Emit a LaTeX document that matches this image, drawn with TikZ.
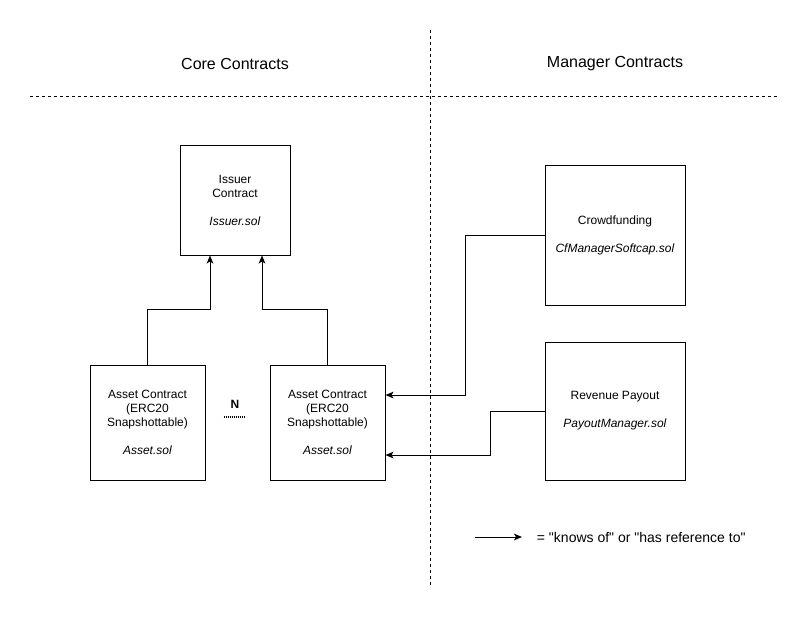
\documentclass[tikz,border=0pt]{standalone}
\usepackage{fontspec}
\setmainfont{Liberation Sans}[Ligatures=TeXOff]
\usetikzlibrary{arrows.meta}

\begin{document}
\begin{tikzpicture}[
    x=0.75pt, y=-0.75pt,
    contract/.style={draw, line width=0.75pt, align=center, inner sep=2pt,
      font=\fontsize{9}{10.5}\selectfont},
    sectitle/.style={font=\fontsize{12}{14}\selectfont},
    divider/.style={line width=0.75pt, dash pattern=on 2.25pt off 2.25pt},
    nline/.style={line width=1.1pt, dash pattern=on 0.75pt off 0.75pt},
    ref/.style={line width=0.75pt, -{Stealth[length=6pt,width=5pt,inset=1.5pt]}}
  ]
  \fill[white] (0,0) rectangle (812,617);
  \useasboundingbox (0,0) rectangle (812,617);

  % section dividers
  \draw[divider] (430,30) -- (430,585);
  \draw[divider] (30,96) -- (778,96);
  \node[sectitle] (coretitle) at (235,64) {Core Contracts};
  \node[sectitle] (mgrtitle) at (615,64) {Manager Contracts};

  % core side
  \node[contract, minimum width=82.5pt, minimum height=82.5pt] (issuer) at (235,200)
    {Issuer\\Contract\\[10.5pt]\textit{Issuer.sol}};
  \foreach \nm/\x in {asset1/147.5, asset2/327.5} {
    \node[contract, minimum width=86.25pt, minimum height=86.25pt] (\nm) at (\x,422.5)
      {Asset Contract\\(ERC20\\Snapshottable)\\[10.5pt]\textit{Asset.sol}};
  }
  \node[font=\bfseries\fontsize{9}{10}\selectfont] (nlbl) at (235,404) {N};
  \draw[nline] ([xshift=13.5pt,yshift=4pt]asset1.east) -- ([xshift=-18pt,yshift=4pt]asset2.west);

  \draw[ref] (asset1.north) -- ++(0,-55) -| ([xshift=-18.75pt]issuer.south);
  \draw[ref] (asset2.north) -- ++(0,-55) -| ([xshift=20.25pt]issuer.south);

  % manager side
  \node[contract, minimum width=105pt, minimum height=105pt] (crowd) at (615,235)
    {Crowdfunding\\[10.5pt]\textit{CfManagerSoftcap.sol}};
  \node[contract, minimum width=105pt, minimum height=103.5pt] (payout) at (615,411)
    {Revenue Payout\\[10.5pt]\textit{PayoutManager.sol}};

  \draw[ref] (crowd.west) -- ++(-79,0) |- ([yshift=20.6pt]asset2.east);
  \draw[ref] (payout.west) -- ++(-54,0) |- ([yshift=-24.4pt]asset2.east);

  % legend
  \node[anchor=west, inner sep=2pt, font=\fontsize{10.5}{12}\selectfont] (legend) at (534,537)
    {= "knows of" or "has reference to"};
  \draw[ref] ([xshift=-44pt]legend.west) -- ([xshift=-9pt]legend.west);
\end{tikzpicture}
\end{document}
